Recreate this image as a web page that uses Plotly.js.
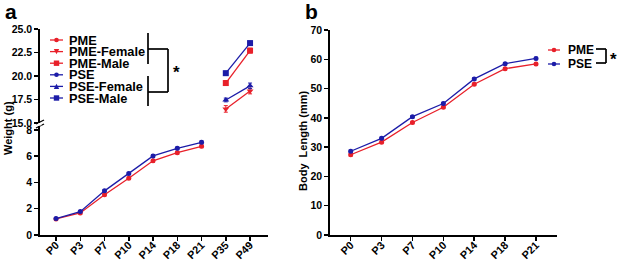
<!DOCTYPE html>
<html><head><meta charset="utf-8">
<script src="https://cdn.plot.ly/plotly-3.0.1.min.js"></script>
<style>html,body{margin:0;padding:0;background:#fff}#c{width:617px;height:262px}</style>
</head><body><div id="c"></div>
<script>
// ---- data ----
const catsA = ["P0","P3","P7","P10","P14","P18","P21","P35","P49"];
const earlyCats = ["P0","P3","P7","P10","P14","P18","P21"];
const lateCats = ["P35","P49"];
const pmeWeight = [1.22,1.68,3.07,4.32,5.65,6.27,6.75];
const pseWeight = [1.25,1.78,3.36,4.68,6.02,6.60,7.06];
const pmeWeightErr = [0.05,0.06,0.08,0.09,0.1,0.1,0.1];
const pseWeightErr = [0.05,0.06,0.08,0.09,0.1,0.1,0.1];
const pmeFemale = [16.5,18.4];
const pmeMale = [19.25,22.7];
const pseFemale = [17.45,18.95];
const pseMale = [20.3,23.5];
const pmeFemaleErr = [0.35,0.3];
const pmeMaleErr = [0.25,0.25];
const pseFemaleErr = [0.2,0.3];
const pseMaleErr = [0.2,0.2];
const catsB = ["P0","P3","P7","P10","P14","P18","P21"];
const pmeLength = [27.4,31.7,38.4,43.6,51.5,56.8,58.4];
const pseLength = [28.6,33.0,40.4,44.9,53.3,58.5,60.3];
const pmeLengthErr = [0.4,0.4,0.4,0.4,0.4,0.4,0.4];
const pseLengthErr = [0.4,0.4,0.4,0.4,0.4,0.4,0.4];
const legendA = ["PME","PME-Female","PME-Male","PSE","PSE-Female","PSE-Male"];
const legendB = ["PME","PSE"];

// ---- style ----
const W=617,H=262;
const RED='#e8202a', BLUE='#1c1ca8';
const FONT='Liberation Sans, Arial, sans-serif';
const px=x=>x/W, py=y=>1-y/H;

function tr(x,y,err,xa,ya,color,symbol){
  return {x:x,y:y,xaxis:xa,yaxis:ya,type:'scatter',mode:'lines+markers',
    line:{color:color,width:1.3},marker:{color:color,size:symbol==='circle'?5:6,symbol:symbol},
    error_y:{type:'data',array:err,visible:true,color:color,thickness:1,width:2},showlegend:false,cliponaxis:false};
}
const data=[
  tr(earlyCats,pmeWeight,pmeWeightErr,'x','y',RED,'circle'),
  tr(earlyCats,pseWeight,pseWeightErr,'x','y',BLUE,'circle'),
  tr(lateCats,pmeFemale,pmeFemaleErr,'x','y2',RED,'triangle-down'),
  tr(lateCats,pmeMale,pmeMaleErr,'x','y2',RED,'square'),
  tr(lateCats,pseFemale,pseFemaleErr,'x','y2',BLUE,'triangle-up'),
  tr(lateCats,pseMale,pseMaleErr,'x','y2',BLUE,'square'),
  tr(catsB,pmeLength,pmeLengthErr,'x3','y3',RED,'circle'),
  tr(catsB,pseLength,pseLengthErr,'x3','y3',BLUE,'circle')
];

const tickFont={family:FONT,size:10.5,color:'#000',weight:'bold'};
const axCommon={showline:true,linecolor:'#000',linewidth:1.7,ticks:'outside',ticklen:4,tickwidth:1.5,tickcolor:'#000',
  showgrid:false,zeroline:false,tickfont:tickFont,fixedrange:true,automargin:false};
const xTickFont={family:FONT,size:10.8,color:'#000',weight:'bold'};

const layout={
  width:W,height:H,margin:{l:0,r:0,t:0,b:0},paper_bgcolor:'#fff',plot_bgcolor:'rgba(0,0,0,0)',showlegend:false,
  xaxis:Object.assign({},axCommon,{domain:[px(40),px(268)],anchor:'y',type:'category',categoryarray:catsA,categoryorder:'array',
    range:[-0.66,8.74],tickangle:-45,tickfont:xTickFont,ticklabelstandoff:-6}),
  yaxis:Object.assign({},axCommon,{domain:[py(235),py(126)],anchor:'x',range:[0,8.3],tickvals:[0,2,4,6,8]}),
  yaxis2:Object.assign({},axCommon,{domain:[py(123),py(29)],anchor:'x',range:[15,25],tickvals:[15,17.5,20,22.5,25],tickformat:'.1f'}),
  xaxis3:Object.assign({},axCommon,{domain:[px(330),px(557)],anchor:'y3',type:'category',categoryarray:catsB,categoryorder:'array',
    range:[-0.67,6.68],tickangle:-45,tickfont:xTickFont,ticklabelstandoff:-6}),
  yaxis3:Object.assign({},axCommon,{domain:[py(235),py(30)],anchor:'x3',range:[0,70],tickvals:[0,10,20,30,40,50,60,70]}),
  shapes:[],annotations:[]
};
const S=layout.shapes, A=layout.annotations;
function line(x0,y0,x1,y1,color,w){S.push({type:'line',xref:'paper',yref:'paper',x0:px(x0),y0:py(y0),x1:px(x1),y1:py(y1),line:{color:color||'#000',width:w||1.7}});}
function text(t,x,y,size,xanchor,extra){A.push(Object.assign({text:t,xref:'paper',yref:'paper',x:px(x),y:py(y),showarrow:false,
  xanchor:xanchor||'left',yanchor:'middle',font:{family:FONT,size:size,color:'#000',weight:'bold'}},extra||{}));}
function marker(sym,cx,cy,color,r){
  if(sym==='circle'){S.push({type:'circle',xref:'paper',yref:'paper',x0:px(cx-r),x1:px(cx+r),y0:py(cy-r),y1:py(cy+r),fillcolor:color,line:{width:0}});}
  else if(sym==='square'){S.push({type:'rect',xref:'paper',yref:'paper',x0:px(cx-r),x1:px(cx+r),y0:py(cy-r),y1:py(cy+r),fillcolor:color,line:{width:0}});}
  else{
    const d = sym==='triangle-up'?[[cx,cy-r],[cx+r,cy+r],[cx-r,cy+r]]:[[cx,cy+r],[cx+r,cy-r],[cx-r,cy-r]];
    S.push({type:'path',xref:'paper',yref:'paper',path:'M'+d.map(p=>px(p[0])+','+py(p[1])).join('L')+'Z',fillcolor:color,line:{width:0}});
  }
}
// legend a
const symA=['circle','triangle-down','square','circle','triangle-up','square'];
legendA.forEach((n,i)=>{
  const y=40+i*11.6, c=i<3?RED:BLUE;
  line(50,y,63,y,c,1.3);
  marker(symA[i],56.5,y,c,symA[i]==='circle'?2.3:2.7);
  text(n,67,y,12.8,'left');
});
// bracket a
line(148,33,148,64); line(148,76,148,106);
line(148,49,168,49); line(148,92,168,92); line(168,49,168,92);
text('*',176,73,17,'center');
// break mark on y axis
line(36,124,44,120,'#000',1.3); line(36,128,44,124,'#000',1.3);
S.push({type:'rect',xref:'paper',yref:'paper',x0:px(38.5),x1:px(41.5),y0:py(125.5),y1:py(123),fillcolor:'#fff',line:{width:0}});
// legend b
legendB.forEach((n,i)=>{
  const y=50+i*14, c=i===0?RED:BLUE;
  line(548,y,560,y,c,1.3); marker('circle',554,y,c,2.3);
  text(n,566,y,12,'left');
});
line(596,49,606,49); line(606,49,606,63); line(596,63,606,63);
text('*',613,59,17,'center');
// axis titles
text('Weight (g)',8,128,11,'center',{textangle:-90});
text('Body  Length (mm)',303,141,11,'center',{textangle:-90});
// panel labels
text('a',11,11,21,'center');
text('b',311,11,21,'center');

Plotly.newPlot('c',data,layout,{staticPlot:true,displayModeBar:false});
</script></body></html>
